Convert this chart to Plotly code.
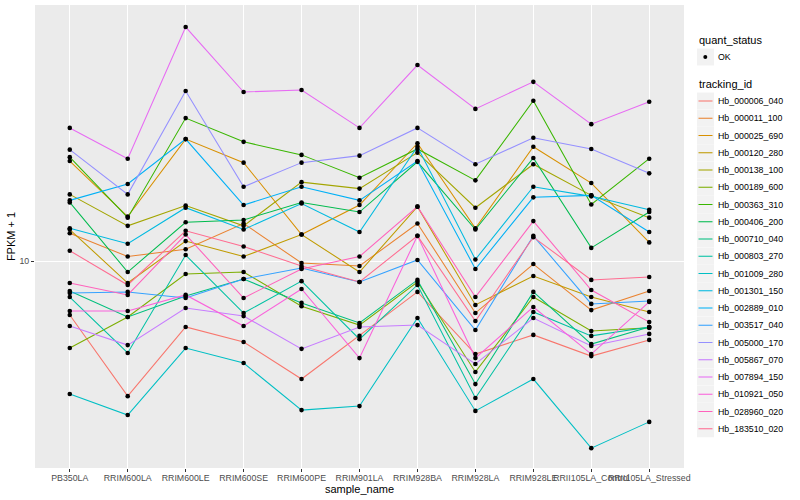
import plotly.graph_objects as go

# ---------------- data ----------------
sample_names = ["PB350LA", "RRIM600LA", "RRIM600LE", "RRIM600SE", "RRIM600PE",
                "RRIM901LA", "RRIM928BA", "RRIM928LA", "RRIM928LE",
                "RRII105LA_Control", "RRII105LA_Stressed"]

tracking_ids = ["Hb_000006_040", "Hb_000011_100", "Hb_000025_690", "Hb_000120_280",
                "Hb_000138_100", "Hb_000189_600", "Hb_000363_310", "Hb_000406_200",
                "Hb_000710_040", "Hb_000803_270", "Hb_001009_280", "Hb_001301_150",
                "Hb_002889_010", "Hb_003517_040", "Hb_005000_170", "Hb_005867_070",
                "Hb_007894_150", "Hb_010921_050", "Hb_028960_020", "Hb_183510_020"]

# FPKM + 1 per sample (order of sample_names)
hb_000006_040 = [7.01, 4.11, 6.48, 5.87, 4.60, 6.11, 8.16, 5.42, 6.15, 5.35, 5.95]
hb_000011_100 = [12.0, 10.3, 10.8, 12.8, 9.87, 9.68, 12.8, 7.10, 9.80, 7.24, 8.21]
hb_000025_690 = [19.3, 13.4, 22.3, 19.1, 11.9, 14.45, 21.7, 12.4, 21.2, 16.7, 11.3]
hb_000120_280 = [12.3, 8.65, 11.4, 10.3, 11.9, 9.30, 14.3, 7.49, 9.06, 7.89, 7.15]
hb_000138_100 = [15.5, 12.6, 14.4, 12.6, 16.8, 16.1, 20.4, 14.2, 18.9, 15.4, 13.3]
hb_000189_600 = [5.64, 6.92, 9.18, 9.30, 7.43, 6.56, 8.71, 4.82, 7.89, 6.31, 6.44]
hb_000363_310 = [19.8, 13.3, 25.6, 21.9, 20.1, 17.3, 20.9, 17.0, 28.7, 14.5, 19.6]
hb_000406_200 = [14.7, 9.30, 12.9, 13.1, 14.7, 13.8, 19.2, 12.3, 19.7, 10.9, 13.8]
hb_000710_040 = [8.21, 6.92, 7.94, 8.88, 7.59, 6.65, 8.83, 4.45, 8.16, 5.79, 6.48]
hb_000803_270 = [7.89, 5.46, 10.4, 7.10, 8.76, 5.98, 8.54, 4.06, 7.15, 6.11, 6.48]
hb_001009_280 = [4.17, 3.63, 5.64, 5.11, 3.75, 3.85, 6.87, 3.73, 4.60, 2.92, 3.47]
hb_001301_150 = [12.4, 11.2, 14.2, 12.3, 14.6, 12.1, 21.2, 10.1, 16.3, 15.3, 14.0]
hb_002889_010 = [14.9, 16.6, 22.3, 14.45, 16.3, 14.9, 19.3, 9.49, 15.2, 15.4, 12.1]
hb_003517_040 = [8.10, 8.16, 7.84, 8.88, 9.55, 8.71, 10.07, 6.35, 11.8, 7.54, 7.69]
hb_005000_170 = [20.8, 15.5, 30.6, 16.3, 19.1, 20.0, 24.0, 18.9, 22.5, 20.9, 17.8]
hb_005867_070 = [6.52, 5.75, 7.34, 6.96, 5.61, 6.48, 6.56, 5.08, 6.87, 5.72, 6.19]
hb_007894_150 = [24.0, 19.6, 46.6, 30.4, 30.8, 24.0, 36.3, 27.2, 32.5, 24.6, 28.5]
hb_010921_050 = [7.20, 7.20, 8.00, 6.52, 8.32, 5.28, 11.8, 5.28, 7.39, 5.42, 7.64]
hb_028960_020 = [8.65, 8.00, 11.9, 7.84, 9.49, 10.3, 14.3, 7.89, 13.0, 8.26, 6.69]
hb_183510_020 = [10.7, 8.54, 12.2, 11.0, 9.68, 8.71, 11.8, 6.74, 11.7, 8.83, 9.00]

series_values = [hb_000006_040, hb_000011_100, hb_000025_690, hb_000120_280,
                 hb_000138_100, hb_000189_600, hb_000363_310, hb_000406_200,
                 hb_000710_040, hb_000803_270, hb_001009_280, hb_001301_150,
                 hb_002889_010, hb_003517_040, hb_005000_170, hb_005867_070,
                 hb_007894_150, hb_010921_050, hb_028960_020, hb_183510_020]

quant_status = ["OK"]
y_tick_values = [10]
y_tick_labels = ["10"]

# ---------------- style ----------------
colors = ["#F8766D", "#EA8331", "#D89000", "#C09B00", "#A3A500", "#7CAE00",
          "#39B600", "#00BB4E", "#00BF7D", "#00C1A3", "#00BFC4", "#00BAE0",
          "#00B0F6", "#35A2FF", "#9590FF", "#C77CFF", "#E76BF3", "#FA62DB",
          "#FF62BC", "#FF6C91"]

FONT = "Liberation Sans"
W, H = 800, 500
L, R, T, B = 35, 116, 5, 32
PW, PH = W - L - R, H - T - B

fig = go.Figure()

for tid, vals, col in zip(tracking_ids, series_values, colors):
    fig.add_trace(go.Scatter(x=sample_names, y=vals, mode="lines", name=tid,
                             line=dict(color=col, width=1.05), showlegend=False,
                             hoverinfo="skip"))
for tid, vals in zip(tracking_ids, series_values):
    fig.add_trace(go.Scatter(x=sample_names, y=vals, mode="markers", name=tid,
                             marker=dict(color="black", size=4.6, symbol="circle"),
                             showlegend=False))

# ---------------- manual ggplot-style legend ----------------
def px(x):
    return (x - L) / PW

def py(y):
    return (H - B - y) / PH

shapes = []
annotations = []
LX0, LX1 = 697, 714
annotations.append(dict(x=px(697), y=py(40), xref="paper", yref="paper",
                        text="quant_status", showarrow=False, xanchor="left",
                        yanchor="middle", font=dict(family=FONT, size=11, color="black")))
for i, qs in enumerate(quant_status):
    cy = 57 + i * 17.25
    shapes.append(dict(type="rect", xref="paper", yref="paper",
                       x0=px(LX0), x1=px(LX1), y0=py(cy - 8.5), y1=py(cy + 8.5),
                       fillcolor="#F2F2F2", line=dict(width=0)))
    shapes.append(dict(type="circle", xref="paper", yref="paper",
                       x0=px(703.3), x1=px(707.3), y0=py(cy - 2), y1=py(cy + 2),
                       fillcolor="black", line=dict(width=0)))
    annotations.append(dict(x=px(716), y=py(cy), xref="paper", yref="paper",
                            text=qs, showarrow=False, xanchor="left", yanchor="middle",
                            font=dict(family=FONT, size=8.8, color="black")))

annotations.append(dict(x=px(697), y=py(84), xref="paper", yref="paper",
                        text="tracking_id", showarrow=False, xanchor="left",
                        yanchor="middle", font=dict(family=FONT, size=11, color="black")))
for i, (tid, col) in enumerate(zip(tracking_ids, colors)):
    cy = 101 + i * 17.25
    shapes.append(dict(type="rect", xref="paper", yref="paper",
                       x0=px(LX0), x1=px(LX1), y0=py(cy - 8.5), y1=py(cy + 8.5),
                       fillcolor="#F2F2F2", line=dict(width=0)))
    shapes.append(dict(type="line", xref="paper", yref="paper",
                       x0=px(698.5), x1=px(712.5), y0=py(cy), y1=py(cy),
                       line=dict(color=col, width=1.05)))
    annotations.append(dict(x=px(716), y=py(cy), xref="paper", yref="paper",
                            text=tid, showarrow=False, xanchor="left", yanchor="middle",
                            font=dict(family=FONT, size=8.8, color="black")))

fig.update_layout(
    width=W, height=H,
    margin=dict(l=L, r=R, t=T, b=B, pad=0),
    paper_bgcolor="white", plot_bgcolor="#EBEBEB",
    font=dict(family=FONT, size=11, color="black"),
    showlegend=False,
    shapes=shapes, annotations=annotations,
    xaxis=dict(type="category", categoryorder="array", categoryarray=sample_names,
               range=[-0.6, len(sample_names) - 0.4],
               showgrid=True, gridcolor="white", gridwidth=1.07,
               zeroline=False, showline=False,
               ticks="outside", ticklen=3, tickwidth=1, tickcolor="#333333",
               ticklabelstandoff=-2,
               tickangle=0, tickfont=dict(family=FONT, size=8.8, color="#4D4D4D"),
               title=dict(text="sample_name", standoff=0,
                          font=dict(family=FONT, size=11, color="black")),
               automargin=False),
    yaxis=dict(type="log", range=[0.4086, 1.7314],
               tickvals=y_tick_values, ticktext=y_tick_labels,
               showgrid=True, gridcolor="white", gridwidth=1.07,
               zeroline=False, showline=False,
               ticks="outside", ticklen=3, tickwidth=1, tickcolor="#333333",
               tickfont=dict(family=FONT, size=8.8, color="#4D4D4D"),
               title=dict(text="FPKM + 1", standoff=1,
                          font=dict(family=FONT, size=11, color="black")),
               automargin=False),
)

fig.write_html("out.html", config={"displayModeBar": False},
               post_script="document.body.style.margin='0';document.body.style.padding='0';")
